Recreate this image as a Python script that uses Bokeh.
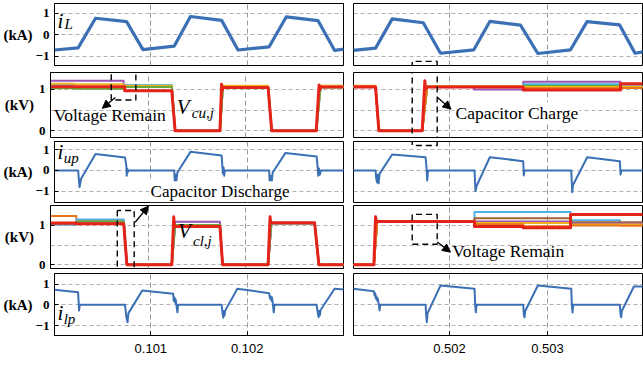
import numpy as np
from bokeh.plotting import figure
from bokeh.layouts import column, row
from bokeh.models import Range1d, FixedTicker, Label, Arrow, NormalHead
from bokeh.embed import file_html
from bokeh.resources import INLINE

# ---------------- data (time in ms) ----------------
# Row 1: arm inductor current i_L (kA)
iL_left_t = [100.000, 100.245, 100.426, 100.748, 100.918, 101.242, 101.411, 101.735, 101.905, 102.228, 102.405, 102.735, 102.908, 103.010]
iL_left_v = [-0.70, -0.60, 0.78, 0.62, -0.68, -0.52, 0.86, 0.68, -0.70, -0.55, 0.84, 0.67, -0.72, -0.66]
iL_right_t = [501.017, 501.245, 501.415, 501.732, 501.908, 502.248, 502.411, 502.724, 502.901, 503.235, 503.403, 503.735, 503.893, 503.980]
iL_right_v = [-0.72, -0.61, 0.75, 0.57, -0.85, -0.69, 0.63, 0.46, -0.86, -0.69, 0.62, 0.47, -0.85, -0.78]

# Row 3: i_up (kA)
iup_left_t = [100.000, 100.245, 100.260, 100.276, 100.426, 100.732, 100.745, 100.750, 100.755, 100.760, 100.765,
              101.242, 101.250, 101.258, 101.265, 101.276, 101.411, 101.735, 101.742, 101.748, 101.755, 101.762, 101.768,
              102.228, 102.235, 102.245, 102.255, 102.265, 102.398, 102.721, 102.730, 102.738, 102.745, 102.755, 102.765, 103.010]
iup_left_v = [0, 0, -0.80, -0.40, 0.80, 0.63, 0.25, -0.25, 0.10, -0.10, 0,
              0, -0.62, -0.20, -0.50, -0.10, 0.90, 0.72, 0.25, -0.15, 0.15, -0.25, 0,
              0, -0.64, -0.25, -0.55, -0.10, 0.85, 0.68, 0.25, -0.25, 0.10, -0.20, 0, 0]
iup_right_t = [501.017, 501.245, 501.252, 501.262, 501.268, 501.276, 501.286, 501.415, 501.755, 501.765, 501.772, 501.779, 501.786,
               502.255, 502.265, 502.276, 502.411, 502.752, 502.758, 502.765,
               503.242, 503.252, 503.260, 503.405, 503.738, 503.745, 503.752, 503.980]
iup_right_v = [0, 0, -0.40, -0.58, -0.20, -0.62, -0.15, 0.77, 0.64, 0.15, -0.48, -0.10, 0,
               0, -1.00, -0.75, 0.64, 0.45, -0.24, 0,
               0, -1.05, -0.70, 0.64, 0.45, -0.20, 0, 0]

# Row 5: i_lp (kA)
ilp_left_t = [100.000, 100.245, 100.252, 100.255, 100.262, 100.732, 100.745, 100.758, 100.768, 100.911,
              101.232, 101.238, 101.245, 101.252, 101.258, 101.265, 101.276, 101.283, 101.735, 101.745, 101.752,
              101.758, 101.765, 101.772, 101.898, 102.228, 102.238, 102.245, 102.252, 102.258, 102.265, 102.276,
              102.283, 102.721, 102.735, 102.742, 102.748, 102.755, 102.762, 102.908, 103.010]
ilp_left_v = [0.72, 0.60, 0.0, -0.27, 0, 0, -0.56, -0.84, -0.40, 0.69,
              0.53, 0.20, 0.35, 0.10, 0.25, 0.0, -0.36, 0, 0, -0.42, -0.62,
              -0.30, -0.52, -0.28, 0.77, 0.56, 0.30, 0.40, 0.20, 0.35, 0.10, -0.36,
              0, 0, -0.45, -0.60, -0.30, -0.50, -0.25, 0.77, 0.74]
ilp_right_t = [501.017, 501.228, 501.235, 501.242, 501.248, 501.255, 501.262, 501.268, 501.279, 501.286, 501.293,
               501.755, 501.762, 501.768, 501.776, 501.908, 502.255, 502.262, 502.268, 502.276,
               502.752, 502.758, 502.765, 502.772, 502.901, 503.242, 503.248, 503.255, 503.262,
               503.738, 503.745, 503.752, 503.758, 503.881, 503.980]
ilp_right_v = [0.77, 0.65, 0.45, 0.55, 0.30, 0.40, 0.20, 0.30, 0, -0.27, 0,
               0, -0.50, -0.84, -0.40, 0.93, 0.77, 0, -0.36, 0,
               0, -0.45, -0.60, -0.30, 0.93, 0.77, 0, -0.37, 0,
               0, -0.45, -0.60, -0.30, 0.88, 0.88]

# Row 2: upper capacitor voltages V_cu,j (kV)
vcu_left_t = [100.000, 100.245, 100.245, 100.748, 100.748, 101.242, 101.276, 101.735, 101.765, 102.228, 102.265, 102.721, 102.765, 103.010]
vcu_left_purple = [1.20, 1.20, 1.20, 1.20, 1.07, 1.07, 0, 0, 1.06, 1.06, 0, 0, 1.06, 1.06]
vcu_left_lblue = [1.10, 1.10, 1.02, 1.02, 1.10, 1.10, 0, 0, 1.05, 1.05, 0, 0, 1.05, 1.05]
vcu_left_yellow = [1.13, 1.13, 1.12, 1.12, 1.08, 1.08, 0, 0, 1.08, 1.08, 0, 0, 1.08, 1.08]
vcu_left_green = [1.02, 1.02, 1.01, 1.01, 1.05, 1.05, 0, 0, 1.04, 1.04, 0, 0, 1.04, 1.04]
vcu_left_red_t = [100.000, 100.760, 100.760, 101.242, 101.276, 101.735, 101.752, 101.758, 101.768, 102.228, 102.265, 102.721, 102.750, 102.756, 102.765, 103.010]
vcu_left_red = [1.06, 1.06, 0.96, 0.96, 0.0, 0.0, 1.12, 0.97, 1.04, 1.04, 0.0, 0.0, 1.10, 0.98, 1.05, 1.05]

vcu_right_t = [501.017, 501.245, 501.279, 501.721, 501.772, 502.248, 502.248, 502.752, 502.752, 503.745, 503.745, 503.980]
vcu_right_purple = [1.05, 1.05, 0, 0, 1.05, 1.05, 0.99, 0.99, 1.18, 1.18, 1.05, 1.05]
vcu_right_lblue = [1.05, 1.05, 0, 0, 1.05, 1.05, 1.05, 1.05, 1.12, 1.12, 1.07, 1.07]
vcu_right_green = [1.06, 1.06, 0, 0, 1.06, 1.06, 1.06, 1.06, 1.08, 1.08, 1.06, 1.06]
vcu_right_yellow = [1.08, 1.08, 0, 0, 1.07, 1.07, 1.07, 1.07, 1.05, 1.05, 1.05, 1.05]
vcu_right_orange = [1.07, 1.07, 0, 0, 1.06, 1.06, 1.06, 1.06, 1.02, 1.02, 1.03, 1.03]
vcu_right_red_t = [501.017, 501.245, 501.279, 501.721, 501.748, 501.755, 501.772, 502.752, 502.752, 503.745, 503.745, 503.980]
vcu_right_red = [1.05, 1.05, 0, 0, 1.20, 1.00, 1.05, 1.05, 0.98, 0.98, 1.13, 1.13]

# Row 4: lower capacitor voltages V_cl,j (kV)
vcl_left_t = [100.000, 100.265, 100.265, 100.750, 100.782, 101.242, 101.276, 101.735, 101.762, 102.228, 102.262, 102.704, 102.748, 103.010]
vcl_left_orange = [1.24, 1.24, 1.12, 1.12, 0, 0, 1.00, 1.00, 0, 0, 1.04, 1.04, 0, 0]
vcl_left_lblue = [1.02, 1.02, 1.15, 1.15, 0, 0, 0.99, 0.99, 0, 0, 1.05, 1.05, 0, 0]
vcl_left_purple = [1.03, 1.03, 1.08, 1.08, 0, 0, 1.09, 1.09, 0, 0, 1.06, 1.06, 0, 0]
vcl_left_green = [1.05, 1.05, 1.09, 1.09, 0, 0, 1.01, 1.01, 0, 0, 1.06, 1.06, 0, 0]
vcl_left_red_t = [100.000, 100.265, 100.265, 100.750, 100.782, 101.242, 101.262, 101.268, 101.276, 101.735, 101.762,
                  102.228, 102.248, 102.255, 102.262, 102.704, 102.748, 103.010]
vcl_left_red = [1.06, 1.06, 1.04, 1.04, 0, 0, 1.22, 0.97, 0.97, 0.97, 0, 0, 1.22, 1.06, 1.07, 1.07, 0, 0]

vcl_right_t = [501.017, 501.228, 501.262, 502.255, 502.255, 502.752, 502.752, 503.235, 503.235, 503.738, 503.738, 503.980]
vcl_right_lblue = [0, 0, 1.10, 1.10, 1.34, 1.34, 1.34, 1.34, 1.13, 1.13, 1.06, 1.06]
vcl_right_brown = [0, 0, 1.10, 1.10, 1.18, 1.18, 1.18, 1.18, 1.08, 1.08, 1.08, 1.08]
vcl_right_purple = [0, 0, 1.10, 1.10, 1.10, 1.10, 1.10, 1.10, 1.05, 1.05, 1.05, 1.05]
vcl_right_yellow = [0, 0, 1.10, 1.10, 1.06, 1.06, 1.06, 1.06, 1.02, 1.02, 1.02, 1.02]
vcl_right_orange = [0, 0, 1.10, 1.10, 1.03, 1.03, 0.98, 0.98, 1.00, 1.00, 0.99, 0.99]
vcl_right_red_t = [501.017, 501.228, 501.245, 501.255, 501.265, 502.255, 502.255, 502.752, 502.752, 503.235, 503.235, 503.980]
vcl_right_red = [0, 0, 1.22, 1.08, 1.10, 1.10, 0.97, 0.97, 0.94, 0.94, 1.28, 1.28]

# axes
x_ticks_left = [101, 102]
x_tick_labels_left = ["0.101", "0.102"]
x_ticks_right = [502, 503]
x_tick_labels_right = ["0.502", "0.503"]
units = ["(kA)", "(kV)", "(kA)", "(kV)", "(kA)"]
y_label_ticks = [[-1, 0, 1], [0, 1], [-1, 0, 1], [0, 1], [-1, 0, 1]]
y_grid_ticks = [[-1, 0, 1], [0, 0.5, 1], [-1, 0, 1], [0, 0.5, 1], [-1, 0, 1]]
y_ranges = [(-1.42, 1.465), (-0.16, 1.40), (-1.546, 1.40), (-0.096, 1.506), (-1.476, 1.505)]

# annotations (data coordinates: ms, value)
box_vr1_t = [100.622, 100.874]; box_vr1_v = [0.74, 1.60]
box_cc_t = [501.619, 501.874]
box_cc_v_row1 = [-1.23, -2.0]; box_cc_v_row2 = [-1.0, 2.0]; box_cc_v_row3 = [1.21, 2.0]
box_cd_t = [100.684, 100.857]; box_cd_v = [-0.40, 1.38]
box_vr2_t = [501.619, 501.874]; box_vr2_v = [0.52, 1.28]

# ---------------- styling / layout ----------------
BLUE = "#3b70b5"; RED = "#e42319"; PURPLE = "#9b55b5"; LBLUE = "#4db3e6"
GREEN = "#6aaa3a"; YELLOW = "#f0b323"; ORANGE = "#e8751a"; BROWN = "#a0642d"
SERIF = "Liberation Serif"; SANS = "Liberation Sans"

FRAME_H = [62, 65, 61, 63, 62]
TOP_B = [3, 4, 2, 2, 2]
BOT_B = [3, 2, 1, 3, 30]
LEFT_B, LEFT_FW, LEFT_RB = 50, 293, 1
RIGHT_LB, RIGHT_FW, RIGHT_RB = 9, 289, 1
X_LEFT = (100.0, 103.0)
X_RIGHT = (501.020, 503.969)


def make_fig(r, side):
    left = side == 0
    w = LEFT_B + LEFT_FW + LEFT_RB if left else RIGHT_LB + RIGHT_FW + RIGHT_RB
    h = TOP_B[r] + FRAME_H[r] + BOT_B[r]
    xr = X_LEFT if left else X_RIGHT
    p = figure(width=w, height=h, x_range=Range1d(*xr), y_range=Range1d(*y_ranges[r]),
               output_backend="svg", toolbar_location=None,
               min_border_left=LEFT_B if left else RIGHT_LB,
               min_border_right=LEFT_RB if left else RIGHT_RB,
               min_border_top=TOP_B[r], min_border_bottom=BOT_B[r],
               border_fill_color="white",
               background_fill_color="white", outline_line_color="black", outline_line_width=1)
    xt = FixedTicker(ticks=x_ticks_left if left else x_ticks_right)
    p.xaxis.ticker = xt; p.xgrid.ticker = xt
    p.yaxis.ticker = FixedTicker(ticks=y_label_ticks[r])
    p.ygrid.ticker = FixedTicker(ticks=y_grid_ticks[r])
    for ax in list(p.xaxis) + list(p.yaxis):
        ax.major_tick_in = 4; ax.major_tick_out = 0
        ax.minor_tick_in = 0; ax.minor_tick_out = 0
        ax.axis_line_color = "black"; ax.major_tick_line_color = "black"
    p.xgrid.grid_line_color = "#9a9a9a"; p.xgrid.grid_line_dash = "5 3"
    p.ygrid.grid_line_color = "#b0b0b0"; p.ygrid.grid_line_dash = "4 3"
    if r == 4:
        p.xaxis.major_label_overrides = dict(zip(x_ticks_left if left else x_ticks_right,
                                                 x_tick_labels_left if left else x_tick_labels_right))
        p.xaxis.major_label_text_font = SANS
        p.xaxis.major_label_text_font_size = "13px"
        p.xaxis.major_label_text_color = "black"
        p.xaxis.major_label_standoff = 8
    else:
        p.xaxis.visible = False
    if left:
        p.yaxis.major_label_text_font = SERIF
        p.yaxis.major_label_text_font_style = "bold"
        p.yaxis.major_label_text_font_size = "13px"
        p.yaxis.major_label_text_color = "black"
        p.yaxis.major_label_standoff = 5
        p.yaxis.axis_label = units[r]
        p.yaxis.axis_label_orientation = "horizontal"
        p.yaxis.axis_label_text_font = SERIF
        p.yaxis.axis_label_text_font_style = "bold"
        p.yaxis.axis_label_text_font_size = "15px"
        p.yaxis.axis_label_text_color = "black"
        p.yaxis.axis_label_standoff = 2 if units[r] == "(kV)" else 0
    else:
        p.yaxis.visible = False
    return p


def ln(p, t, v, color, width):
    p.line(t, v, line_color=color, line_width=width, line_join="round")


def box(p, t, v):
    p.line([t[0], t[0], t[1], t[1], t[0]], [v[1], v[0], v[0], v[1], v[1]],
           line_color="black", line_width=1.4, line_dash="6 4")


def arrow(p, x0, y0, x1, y1):
    p.add_layout(Arrow(x_start=x0, y_start=y0, x_end=x1, y_end=y1, line_color="black", line_width=1.3,
                       end=NormalHead(size=8, fill_color="black", line_color="black")))


def note(p, x, y, text, bg=False, size="17.5px"):
    kw = dict(background_fill_color="white", padding=1) if bg else {}
    p.add_layout(Label(x=x, y=y, text=text, text_font=SERIF, text_font_size=size,
                       text_baseline="alphabetic", text_color="black", **kw))


def sym(p, x, y, xs, ys, main, sub, main_size="21px"):
    p.add_layout(Label(x=x, y=y, text=main, text_font=SERIF, text_font_style="italic",
                       text_font_size=main_size, text_baseline="alphabetic", text_color="black"))
    p.add_layout(Label(x=xs, y=ys, text=sub, text_font=SERIF, text_font_style="italic",
                       text_font_size="15px", text_baseline="alphabetic", text_color="black"))


figs = [[make_fig(r, s) for s in range(2)] for r in range(5)]

# Row 1
p = figs[0][0]; ln(p, iL_left_t, iL_left_v, BLUE, 3.2)
sym(p, 100.031, 0.63, 100.105, 0.51, "i", "L")
p = figs[0][1]; ln(p, iL_right_t, iL_right_v, BLUE, 3.2)
box(p, box_cc_t, box_cc_v_row1)

# Row 2
p = figs[1][0]
for vals, c in [(vcu_left_purple, PURPLE), (vcu_left_lblue, LBLUE), (vcu_left_yellow, YELLOW), (vcu_left_green, GREEN)]:
    ln(p, vcu_left_t, vals, c, 2)
ln(p, vcu_left_red_t, vcu_left_red, RED, 3)
box(p, box_vr1_t, box_vr1_v)
arrow(p, 100.663, 0.80, 100.531, 0.54)
note(p, 100.034, 0.38, "Voltage Remain")
sym(p, 101.293, 0.576, 101.446, 0.436, "V", "cu,j")
p = figs[1][1]
for vals, c in [(vcu_right_purple, PURPLE), (vcu_right_lblue, LBLUE), (vcu_right_green, GREEN),
                (vcu_right_yellow, YELLOW), (vcu_right_orange, ORANGE)]:
    ln(p, vcu_right_t, vals, c, 2)
ln(p, vcu_right_red_t, vcu_right_red, RED, 3)
box(p, box_cc_t, box_cc_v_row2)
arrow(p, 501.878, 0.80, 502.015, 0.52)
note(p, 502.051, 0.42, "Capacitor Charge", bg=True)

# Row 3
p = figs[2][0]; ln(p, iup_left_t, iup_left_v, BLUE, 2)
sym(p, 100.031, 0.915, 100.095, 0.604, "i", "up")
note(p, 100.987, -1.024, "Capacitor Discharge", bg=True, size="17px")
p = figs[2][1]; ln(p, iup_right_t, iup_right_v, BLUE, 2)
box(p, box_cc_t, box_cc_v_row3)

# Row 4
p = figs[3][0]
for vals, c in [(vcl_left_orange, ORANGE), (vcl_left_lblue, LBLUE), (vcl_left_purple, PURPLE), (vcl_left_green, GREEN)]:
    ln(p, vcl_left_t, vals, c, 2)
ln(p, vcl_left_red_t, vcl_left_red, RED, 3)
box(p, box_cd_t, box_cd_v)
arrow(p, 100.867, 1.08, 101.003, 1.49)
sym(p, 101.306, 0.848, 101.459, 0.615, "V", "cl,j")
p = figs[3][1]
for vals, c in [(vcl_right_lblue, LBLUE), (vcl_right_brown, BROWN), (vcl_right_purple, PURPLE),
                (vcl_right_yellow, YELLOW), (vcl_right_orange, ORANGE)]:
    ln(p, vcl_right_t, vals, c, 2)
ln(p, vcl_right_red_t, vcl_right_red, RED, 3)
box(p, box_vr2_t, box_vr2_v)
arrow(p, 501.874, 0.58, 502.010, 0.32)
note(p, 502.028, 0.347, "Voltage Remain")

# Row 5
p = figs[4][0]; ln(p, ilp_left_t, ilp_left_v, BLUE, 2)
sym(p, 100.031, -0.417, 100.095, -0.6875, "i", "lp")
p = figs[4][1]; ln(p, ilp_right_t, ilp_right_v, BLUE, 2)

layout = column(*[row(figs[r][0], figs[r][1]) for r in range(5)])

open("out.html", "w").write(file_html(layout, INLINE))
